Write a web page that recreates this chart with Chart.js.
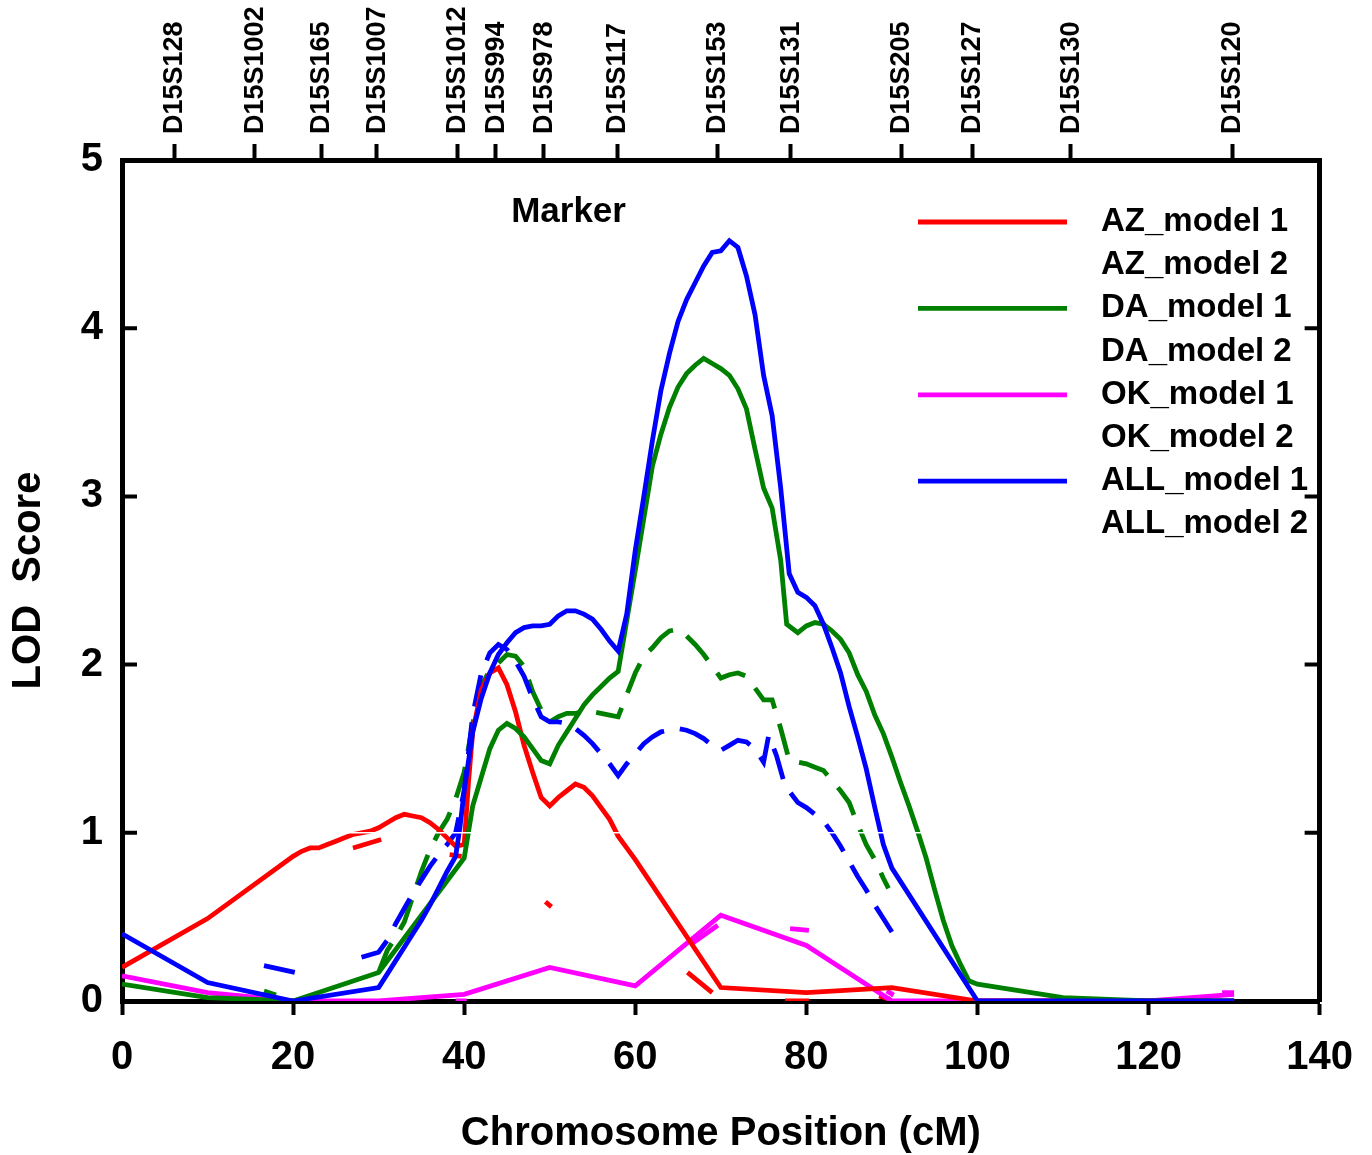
<!DOCTYPE html>
<html>
<head>
<meta charset="utf-8">
<script src="https://cdn.jsdelivr.net/npm/chart.js@4.4.1/dist/chart.umd.min.js"></script>
<style>
  html, body { margin: 0; padding: 0; background: #fff; }
  #wrap { width: 1372px; height: 1155px; }
</style>
</head>
<body>
<div id="wrap"><canvas id="chart"></canvas></div>
<script>
const FONT = "'Liberation Sans', Arial, Helvetica, sans-serif";

// markers along the top axis (cM)
const markerNames = ["D15S128", "D15S1002", "D15S165", "D15S1007", "D15S1012", "D15S994", "D15S978",
    "D15S117", "D15S153", "D15S131", "D15S205", "D15S127", "D15S130", "D15S120"];
const markerPos = [6.1, 15.5, 23.3, 29.8, 39.2, 43.7, 49.3, 57.9, 69.6, 78.2, 91.1, 99.4, 110.9, 129.8];

const xTicks = [0, 20, 40, 60, 80, 100, 120, 140];
const yTicks = [0, 1, 2, 3, 4, 5];

// AZ
const azM1Pos = [0, 10, 20, 21, 22, 23, 24, 25, 26, 27, 28, 29, 30, 31, 32, 33, 34, 35, 36, 37, 38, 39, 40, 40.5,
    41, 42, 43, 44, 45, 46, 47, 48, 49, 50, 51, 52, 53, 54, 55, 56, 57, 58, 59, 60, 70, 80, 90, 100, 110, 120, 130];
const azM1Lod = [0.20, 0.49, 0.86, 0.89, 0.91, 0.91, 0.93, 0.95, 0.97, 0.99, 1.00, 1.01, 1.03, 1.06, 1.09, 1.11, 1.10, 1.09, 1.06, 1.02, 0.97, 0.92, 0.93, 1.30,
    1.60, 1.85, 1.95, 1.98, 1.88, 1.72, 1.52, 1.36, 1.21, 1.16, 1.21, 1.25, 1.29, 1.27, 1.22, 1.15, 1.08, 0.98, 0.91, 0.84, 0.08, 0.05, 0.08, 0.00, 0, 0, 0];
const azM2Pos = [27, 30.3, 34, 38.3, 39.7, 45, 49.5, 50.2, 58, 66.1, 70.2, 74, 77.5, 80.3, 85, 88.5, 89.8];
const azM2Lod = [0.91, 0.96, null, 0.87, 0.86, null, 0.59, 0.56, null, 0.17, 0.00, null, 0.00, 0.00, null, 0.03, 0.01];

// DA
const daM1Pos = [0, 10, 20, 30, 35, 40, 41, 42, 43, 44, 45, 46, 47, 48, 49, 50, 51, 52, 53, 54, 55, 56, 57, 58, 59, 60,
    61, 62, 63, 64, 65, 66, 67, 68, 69, 70, 71, 72, 73, 74, 75, 76, 77, 77.7, 79, 80, 81, 82, 83, 84, 85, 86, 87, 88, 89, 90,
    91, 92, 93, 94, 95, 96, 97, 98, 99, 100, 110, 120, 130];
const daM1Lod = [0.10, 0.02, 0.00, 0.17, 0.51, 0.85, 1.16, 1.33, 1.50, 1.61, 1.65, 1.62, 1.57, 1.50, 1.43, 1.41, 1.52, 1.60, 1.68, 1.76, 1.82, 1.87, 1.92, 1.96, 2.26, 2.56,
    2.87, 3.18, 3.37, 3.53, 3.65, 3.73, 3.78, 3.82, 3.79, 3.76, 3.72, 3.64, 3.52, 3.28, 3.05, 2.93, 2.62, 2.24, 2.19, 2.23, 2.25, 2.24, 2.20, 2.15, 2.07, 1.94, 1.84, 1.70, 1.59, 1.45,
    1.30, 1.16, 1.01, 0.85, 0.66, 0.48, 0.33, 0.22, 0.12, 0.10, 0.02, 0.00, 0.00];
const daM2Pos = [16.6, 18, 25, 30, 31, 32, 33, 34, 35, 36, 37, 38, 39, 40, 41, 42, 43, 44, 45, 46, 47, 48, 49, 50, 51, 52, 53, 54, 55, 56, 57, 58, 59,
    60, 61, 62, 63, 64, 65, 66, 67, 68, 69, 70, 71, 72, 73, 74, 75, 76, 77, 78, 79, 80, 81, 82, 83, 84, 85, 86, 87, 88, 89, 89.6];
const daM2Lod = [0.06, 0.035, null, 0.17, 0.30, 0.38, 0.47, 0.62, 0.77, 0.90, 1.00, 1.08, 1.20, 1.36, 1.65, 1.87, 1.97, 2.01, 2.06, 2.05, 1.99, 1.84, 1.73, 1.66, 1.69, 1.71, 1.71, 1.72, 1.72, 1.71, 1.70, 1.69, 1.82,
    1.95, 2.05, 2.10, 2.16, 2.20, 2.21, 2.17, 2.12, 2.06, 1.99, 1.92, 1.94, 1.95, 1.93, 1.86, 1.79, 1.79, 1.62, 1.43, 1.42, 1.41, 1.39, 1.37, 1.31, 1.25, 1.18, 1.05, 0.93, 0.84, 0.73, 0.67];

// OK
const okM1Pos = [0, 10, 20, 30, 40, 50, 60, 70, 80, 90, 100, 110, 120, 130];
const okM1Lod = [0.15, 0.05, 0.00, 0.00, 0.04, 0.20, 0.09, 0.51, 0.33, 0.00, 0.00, 0.00, 0.00, 0.04];
const okM2Pos = [39, 40.3, 50, 66.6, 70.2, 75, 78.1, 80.3, 85, 89.4, 90.2, 110, 128.6, 130];
const okM2Lod = [0.00, 0.00, null, 0.34, 0.47, null, 0.43, 0.42, null, 0.06, 0.035, null, 0.05, 0.05];

// ALL
const alM1Pos = [0, 10, 20, 30, 31, 32, 33, 34, 35, 36, 37, 38, 39, 39.5, 40, 41, 42, 43, 44, 45, 46, 47, 48, 49, 50, 51, 52, 53, 54, 55, 56, 57, 58, 59,
    60, 61, 62, 63, 64, 65, 66, 67, 68, 69, 70, 71, 72, 73, 74, 75, 76, 77, 78, 79, 80, 81, 82, 83, 84, 85, 86, 87, 88, 89, 90, 100, 110, 120, 130];
const alM1Lod = [0.40, 0.11, 0.00, 0.08, 0.16, 0.24, 0.32, 0.40, 0.48, 0.57, 0.67, 0.77, 0.86, 1.03, 1.25, 1.60, 1.80, 1.95, 2.06, 2.13, 2.19, 2.22, 2.23, 2.23, 2.24, 2.29, 2.32, 2.32, 2.30, 2.27, 2.21, 2.14, 2.08, 2.30,
    2.68, 3.00, 3.33, 3.63, 3.85, 4.04, 4.17, 4.27, 4.37, 4.45, 4.46, 4.52, 4.48, 4.31, 4.08, 3.72, 3.48, 3.05, 2.54, 2.43, 2.40, 2.35, 2.24, 2.10, 1.95, 1.75, 1.57, 1.38, 1.15, 0.93, 0.79, 0.00, 0.00, 0.00, 0.00];
const alM2Pos = [16.6, 20.2, 24, 28, 30, 31, 32, 33, 34, 35, 36, 37, 38, 39, 40, 41, 42, 43, 44, 45, 46, 47, 48, 49, 50, 51, 52, 53, 54, 55, 56, 57, 58, 59,
    60, 61, 62, 63, 64, 65, 66, 67, 68, 69, 70, 71, 72, 73, 74, 75, 75.6, 76.5, 77.5, 79, 80, 81, 82, 83, 84, 85, 86, 87, 88, 89, 90];
const alM2Lod = [0.21, 0.17, null, 0.26, 0.29, 0.36, 0.46, 0.55, 0.64, 0.72, 0.80, 0.87, 0.93, 1.00, 1.25, 1.70, 1.95, 2.07, 2.12, 2.09, 2.02, 1.93, 1.80, 1.69, 1.66, 1.66, 1.65, 1.62, 1.58, 1.53, 1.47, 1.41, 1.34, 1.41,
    1.47, 1.53, 1.57, 1.60, 1.61, 1.62, 1.61, 1.59, 1.56, 1.52, 1.49, 1.52, 1.55, 1.54, 1.50, 1.42, 1.58, 1.46, 1.28, 1.18, 1.15, 1.11, 1.07, 1.00, 0.92, 0.83, 0.74, 0.66, 0.57, 0.49, 0.41];

const LINE_W = 4.8;

function series(label, color, pos, lod, dashed, order) {
    return {
        label: label,
        order: order,
        data: pos.map((x, i) => ({ x: x, y: lod[i] })),
        borderColor: color,
        backgroundColor: color,
        borderWidth: LINE_W,
        borderDash: dashed ? [32, 16] : [],
        pointRadius: 0,
        pointHoverRadius: 0,
        tension: 0,
        fill: false,
        spanGaps: false,
    };
}

const datasets = [
    series("AZ_model 1", "#ff0000", azM1Pos, azM1Lod, false, 3),
    series("AZ_model 2", "#ff0000", azM2Pos, azM2Lod, true, 7),
    series("DA_model 1", "#008000", daM1Pos, daM1Lod, false, 2),
    series("DA_model 2", "#008000", daM2Pos, daM2Lod, true, 6),
    series("OK_model 1", "#ff00ff", okM1Pos, okM1Lod, false, 4),
    series("OK_model 2", "#ff00ff", okM2Pos, okM2Lod, true, 8),
    series("ALL_model 1", "#0000ff", alM1Pos, alM1Lod, false, 1),
    series("ALL_model 2", "#0000ff", alM2Pos, alM2Lod, true, 5),
];

// legend, inward ticks, "Marker" caption
const overlay = {
    id: "overlay",
    afterDatasetsDraw(chart) {
        const { ctx, chartArea: a, scales } = chart;
        const y1 = scales.y.getPixelForValue(1);
        ctx.save();
        ctx.strokeStyle = "#fff";
        ctx.lineWidth = 1.5;
        ctx.beginPath();
        ctx.moveTo(a.left + 3, y1);
        ctx.lineTo(a.right - 3, y1);
        ctx.stroke();
        ctx.restore();
    },
    afterDraw(chart) {
        const { ctx, chartArea: a, scales } = chart;
        ctx.save();
        ctx.strokeStyle = "#000";
        ctx.lineWidth = 4;
        scales.y.ticks.forEach(t => {
            const py = scales.y.getPixelForValue(t.value);
            ctx.beginPath();
            ctx.moveTo(a.left, py); ctx.lineTo(a.left + 15, py);
            ctx.moveTo(a.right, py); ctx.lineTo(a.right - 15, py);
            ctx.stroke();
        });

        ctx.fillStyle = "#000";
        ctx.font = "bold 35px " + FONT;
        ctx.textAlign = "center";
        ctx.textBaseline = "middle";
        ctx.fillText("Marker", scales.x.getPixelForValue(52.2), 212);

        ctx.font = "bold 33px " + FONT;
        ctx.textAlign = "left";
        chart.data.datasets.forEach((ds, i) => {
            const ry = 222 + i * 43.2;
            if (!ds.borderDash.length) {
                ctx.strokeStyle = ds.borderColor;
                ctx.lineWidth = LINE_W;
                ctx.beginPath();
                ctx.moveTo(918, ry); ctx.lineTo(1067, ry);
                ctx.stroke();
            }
            ctx.fillText(ds.label, 1101, ry);
        });
        ctx.restore();
    }
};

Chart.defaults.font.family = FONT;
Chart.defaults.color = "#000";

new Chart(document.getElementById("chart"), {
    type: "line",
    data: { datasets: datasets },
    options: {
        responsive: true,
        maintainAspectRatio: false,
        animation: false,
        events: [],
        layout: { padding: 0 },
        plugins: {
            legend: { display: false },
            tooltip: { enabled: false },
        },
        scales: {
            x: {
                type: "linear",
                position: "bottom",
                min: 0,
                max: 140,
                afterBuildTicks: s => { s.ticks = xTicks.map(v => ({ value: v })); },
                ticks: { color: "#000", font: { size: 40, weight: "bold" }, padding: 19, maxRotation: 0 },
                grid: { drawOnChartArea: false, drawTicks: true, tickLength: 14, tickWidth: 4, tickColor: "#000" },
                border: { display: true, width: 5, color: "#000" },
                title: { display: true, text: "Chromosome Position (cM)", color: "#000",
                    font: { size: 40, weight: "bold" }, padding: { top: 0, bottom: -3 } },
                afterFit: s => { s.height = 154; },
            },
            xTop: {
                type: "linear",
                position: "top",
                min: 0,
                max: 140,
                afterBuildTicks: s => { s.ticks = markerPos.map(v => ({ value: v })); },
                ticks: {
                    autoSkip: false, minRotation: 90, maxRotation: 90, padding: 10, labelOffset: 33,
                    color: "#000", font: { size: 27, weight: "bold" },
                    callback: (v, i) => markerNames[i],
                },
                grid: { drawOnChartArea: false, drawTicks: true, tickLength: 16, tickWidth: 4, tickColor: "#000" },
                border: { display: true, width: 5, color: "#000" },
                afterFit: s => { s.height = 160; },
            },
            y: {
                type: "linear",
                position: "left",
                min: 0,
                max: 5,
                afterBuildTicks: s => { s.ticks = yTicks.map(v => ({ value: v })); },
                ticks: { color: "#000", font: { size: 40, weight: "bold" }, padding: 11 },
                grid: { display: false },
                border: { display: true, width: 5, color: "#000" },
                title: { display: true, text: "LOD  Score", color: "#000",
                    font: { size: 40, weight: "bold" }, padding: { top: 5, bottom: 0 } },
                afterFit: s => { s.width = 122; },
            },
            yR: {
                type: "linear",
                position: "right",
                min: 0,
                max: 5,
                ticks: { display: false },
                grid: { display: false },
                border: { display: true, width: 5, color: "#000" },
                afterFit: s => { s.width = 47; },
            },
        },
    },
    plugins: [overlay],
});
</script>
</body>
</html>
